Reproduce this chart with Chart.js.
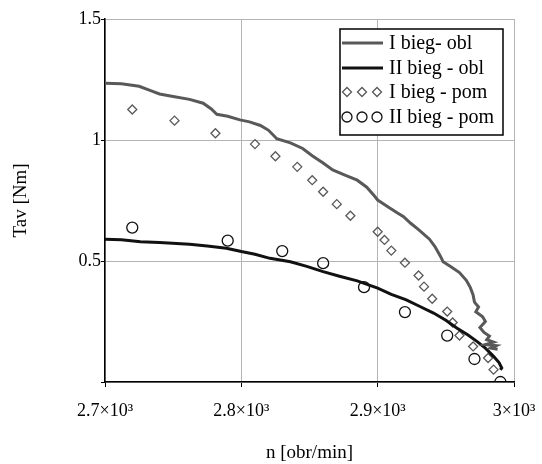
<!DOCTYPE html>
<html>
<head>
<meta charset="utf-8">
<script src="https://cdn.jsdelivr.net/npm/chart.js@4.4.1/dist/chart.umd.min.js"></script>
<style>
  html, body { margin: 0; padding: 0; background: #fff; }
  #wrap { width: 542px; height: 464px; position: relative; }
</style>
</head>
<body>
<div id="wrap"><canvas id="chart" width="542" height="464"></canvas></div>
<script>
// n [obr/min] vs Tav [Nm]
const obl1N = [2700, 2712, 2725, 2733, 2740, 2750, 2762, 2772, 2778, 2782, 2790, 2799, 2806, 2814, 2820, 2826, 2836, 2845, 2852, 2860, 2867, 2876, 2885, 2892, 2897, 2900, 2908, 2914, 2919, 2924, 2930, 2938, 2942, 2946, 2948, 2954, 2960, 2965, 2968, 2970, 2971, 2974, 2972, 2977, 2979, 2975, 2978, 2982, 2980, 2985, 2979, 2987, 2983, 2988];
const obl1T = [1.235, 1.232, 1.222, 1.205, 1.19, 1.18, 1.168, 1.152, 1.128, 1.106, 1.098, 1.083, 1.075, 1.06, 1.04, 1.005, 0.988, 0.965, 0.935, 0.905, 0.876, 0.855, 0.834, 0.805, 0.773, 0.752, 0.722, 0.7, 0.683, 0.657, 0.63, 0.59, 0.56, 0.52, 0.497, 0.475, 0.452, 0.42, 0.39, 0.36, 0.33, 0.31, 0.29, 0.27, 0.25, 0.225, 0.205, 0.19, 0.175, 0.165, 0.155, 0.15, 0.14, 0.135];

const obl2N = [2700, 2712, 2726, 2740, 2762, 2775, 2789, 2800, 2810, 2821, 2836, 2848, 2860, 2872, 2885, 2900, 2910, 2921, 2931, 2941, 2950, 2958, 2966, 2973, 2979, 2985, 2989, 2991, 2990];
const obl2T = [0.59, 0.588, 0.58, 0.576, 0.569, 0.562, 0.553, 0.539, 0.528, 0.511, 0.497, 0.478, 0.456, 0.437, 0.418, 0.388, 0.362, 0.339, 0.312, 0.285, 0.255, 0.223, 0.195, 0.167, 0.14, 0.106, 0.08, 0.058, 0.05];

const pom1N = [2720, 2751, 2781, 2810, 2825, 2841, 2852, 2860, 2870, 2880, 2900, 2905, 2910, 2920, 2930, 2934, 2940, 2951, 2955, 2960, 2970, 2981, 2985];
const pom1T = [1.126, 1.08, 1.028, 0.983, 0.933, 0.889, 0.834, 0.786, 0.735, 0.687, 0.621, 0.587, 0.543, 0.493, 0.44, 0.394, 0.344, 0.291, 0.246, 0.192, 0.147, 0.099, 0.051];

const pom2N = [2720, 2790, 2830, 2860, 2890, 2920, 2951, 2971, 2990];
const pom2T = [0.638, 0.584, 0.541, 0.491, 0.392, 0.289, 0.192, 0.095, 0.0];

const seriesNames = ['I bieg- obl', 'II bieg - obl', 'I bieg - pom', 'II bieg - pom'];
const xTicks = [2700, 2800, 2900, 3000];
const yTicks = [0, 0.5, 1, 1.5];

const GRAY = '#595959';
const BLACK = '#111';
const FONT = "'Liberation Serif', 'Times New Roman', serif";

function pts(xs, ys) {
    return xs.map((x, i) => ({ x: x, y: ys[i] }));
}

// legend drawn as a framed box inside the plot (top right)
const boxLegend = {
    id: 'boxLegend',
    afterDatasetsDraw(chart) {
        const c = chart.ctx;
        const a = chart.chartArea;
        const x0 = a.right - 174, y0 = a.top + 10, w = 163, h = 106;
        c.save();
        c.fillStyle = '#fff';
        c.fillRect(x0, y0, w, h);
        c.strokeStyle = '#000';
        c.lineWidth = 1.5;
        c.strokeRect(x0, y0, w, h);
        c.font = '20px ' + FONT;
        c.textBaseline = 'middle';
        c.fillStyle = '#000';
        const rows = [y0 + 14, y0 + 39, y0 + 63, y0 + 88];
        for (let i = 0; i < 4; i++) {
            const ry = rows[i];
            if (i < 2) {
                c.strokeStyle = i === 0 ? GRAY : BLACK;
                c.lineWidth = 3;
                c.beginPath();
                c.moveTo(x0 + 2, ry);
                c.lineTo(x0 + 43, ry);
                c.stroke();
            } else {
                for (let k = 0; k < 3; k++) {
                    const px = x0 + 7 + k * 15;
                    c.lineWidth = 1.3;
                    c.beginPath();
                    if (i === 2) {
                        c.strokeStyle = GRAY;
                        c.moveTo(px - 4.5, ry);
                        c.lineTo(px, ry - 4.5);
                        c.lineTo(px + 4.5, ry);
                        c.lineTo(px, ry + 4.5);
                        c.closePath();
                    } else {
                        c.strokeStyle = BLACK;
                        c.arc(px, ry, 5, 0, Math.PI * 2);
                    }
                    c.stroke();
                }
            }
            c.fillText(seriesNames[i], x0 + 49, ry + 1);
        }
        c.restore();
    }
};

const ctx = document.getElementById('chart').getContext('2d');
const chart = new Chart(ctx, {
    type: 'scatter',
    data: {
        datasets: [
            {
                label: seriesNames[0],
                data: pts(obl1N, obl1T),
                showLine: true,
                borderColor: GRAY,
                borderWidth: 3,
                pointRadius: 0,
                tension: 0
            },
            {
                label: seriesNames[1],
                data: pts(obl2N, obl2T),
                showLine: true,
                borderColor: BLACK,
                borderWidth: 3,
                pointRadius: 0,
                tension: 0
            },
            {
                label: seriesNames[2],
                data: pts(pom1N, pom1T),
                pointStyle: 'rectRot',
                pointRadius: 4.5,
                borderColor: GRAY,
                backgroundColor: 'rgba(255,255,255,0)',
                borderWidth: 1.3
            },
            {
                label: seriesNames[3],
                data: pts(pom2N, pom2T),
                pointStyle: 'circle',
                pointRadius: 5.5,
                borderColor: BLACK,
                backgroundColor: 'rgba(255,255,255,0)',
                borderWidth: 1.3,
                clip: 0
            }
        ]
    },
    options: {
        responsive: false,
        animation: false,
        layout: { padding: { left: 0, top: 19, right: 28, bottom: 0 } },
        plugins: {
            legend: { display: false },
            tooltip: { enabled: false }
        },
        scales: {
            x: {
                type: 'linear',
                min: 2700,
                max: 3000,
                afterBuildTicks: (s) => { s.ticks = xTicks.map(v => ({ value: v })); },
                afterFit: (s) => { s.height = 82; s.paddingRight = 0; s.paddingLeft = 0; },
                ticks: {
                    color: '#000',
                    font: { family: FONT, size: 18 },
                    padding: 13,
                    maxRotation: 0,
                    callback: (v) => (v / 1000) + '×10³'
                },
                grid: { color: '#b4b4b4', lineWidth: 1, tickColor: '#000', tickLength: 5 },
                border: { color: '#000', width: 1.5 },
                title: {
                    display: true,
                    text: 'n [obr/min]',
                    color: '#000',
                    font: { family: FONT, size: 19 },
                    padding: { top: 0, bottom: 0 }
                }
            },
            y: {
                type: 'linear',
                min: 0,
                max: 1.5,
                afterBuildTicks: (s) => { s.ticks = yTicks.map(v => ({ value: v })); },
                afterFit: (s) => { s.width = 105; s.paddingTop = 0; s.paddingBottom = 0; },
                ticks: {
                    color: '#000',
                    font: { family: FONT, size: 18 },
                    padding: 0,
                    callback: (v) => v === 0 ? '' : String(v)
                },
                grid: { color: '#b4b4b4', lineWidth: 1, tickColor: '#000', tickLength: 4 },
                border: { color: '#000', width: 1.5 },
                title: {
                    display: true,
                    text: 'Tav [Nm]',
                    color: '#000',
                    font: { family: FONT, size: 19 },
                    padding: { top: 10, bottom: 0 }
                }
            }
        }
    },
    plugins: [boxLegend]
});
</script>
</body>
</html>
